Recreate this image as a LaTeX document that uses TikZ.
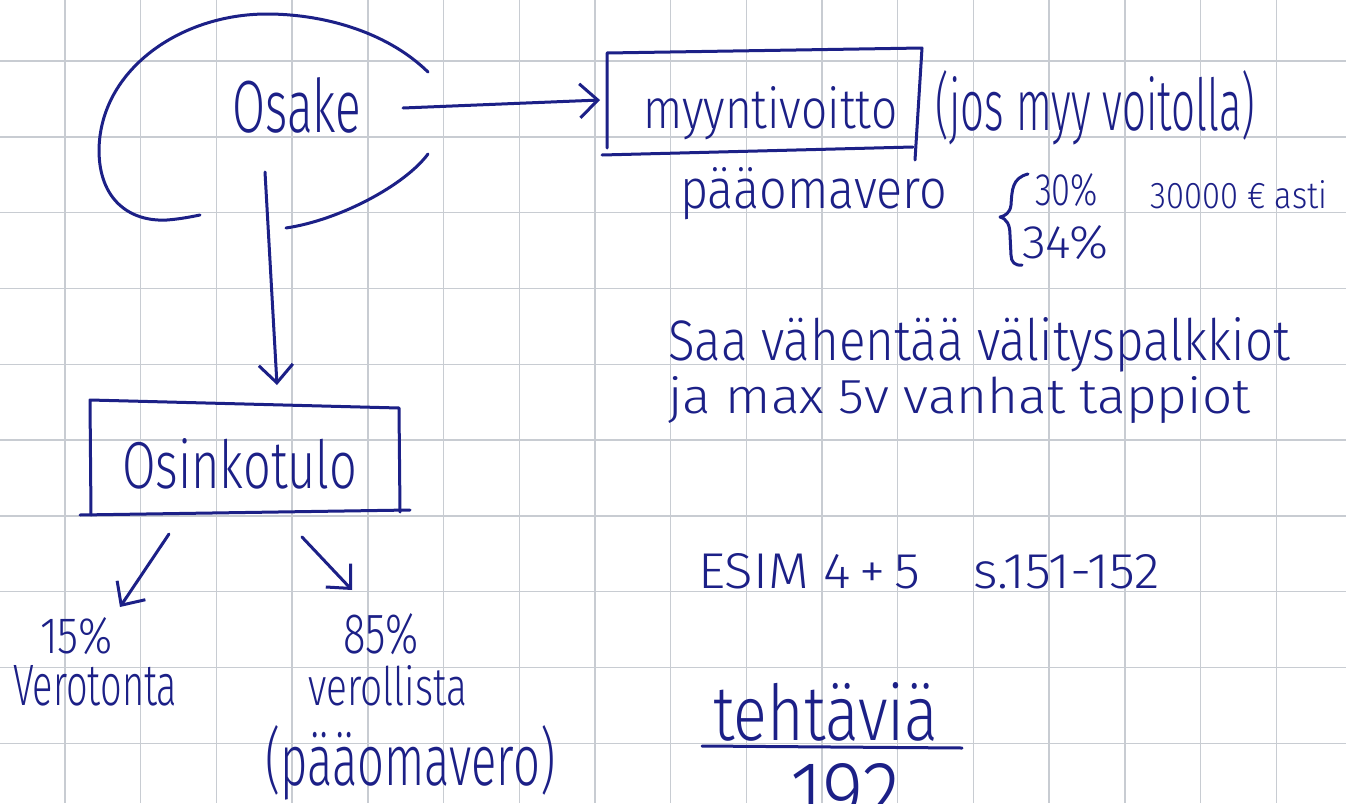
\documentclass[tikz,border=0pt]{standalone}
\usepackage{fontspec}
\usepackage{graphicx}
\usetikzlibrary{arrows.meta}
\newfontfamily\hand{Fira Sans Light}
\definecolor{ink}{RGB}{28,32,135}
\definecolor{gridc}{RGB}{200,204,210}
\newcommand\hw[3]{\resizebox{#1pt}{#2pt}{\hand #3}}
\tikzset{
  ink/.style={draw=ink, line width=3pt, line cap=round, line join=round},
  arr/.style={ink, -{Straight Barb[length=18pt,width=34pt,line width=3pt]}},
  txt/.style={anchor=base west, inner sep=0pt, text=ink},
  gridline/.style={draw=gridc, line width=1.4pt}
}
\begin{document}
\begin{tikzpicture}[x=1pt,y=-1pt]
\useasboundingbox (0,0) rectangle (1346,803);
\clip (0,0) rectangle (1346,803);
\fill[white] (0,0) rectangle (1346,803);
% grid paper
\foreach \i in {0,...,16} \draw[gridline] ({65+75.7*\i},0) -- ({65+75.7*\i},803);
\foreach \j in {0,...,9} \draw[gridline] (0,{61+75.8*\j}) -- (1346,{61+75.8*\j});

% bubble round Osake
\draw[ink] (428,72) .. controls (385,30) and (320,14) .. (267,14)
  .. controls (180,14) and (100,70) .. (99,150)
  .. controls (99,200) and (130,222) .. (167,220)
  .. controls (180,219) and (190,217) .. (200,215);
\draw[ink] (286,228) .. controls (340,220) and (405,185) .. (428,154);

% texts
\node[txt] (osake) at (232,132) {\hw{129}{55}{Osake}};
\node[txt] (myynti) at (643,128) {\hw{254}{42}{myyntivoitto}};
\node[txt] (jos) at (935,130) {\hw{320}{60}{(jos myy voitolla)}};
\node[txt] (paaoma) at (680,208) {\hw{267}{41}{pääomavero}};
\node[txt] (p30) at (1035,205) {\hw{63}{32}{30\%}};
\node[txt] (asti) at (1150,208) {\hw{177}{28}{30000 € asti}};
\node[txt] (p34) at (1022,258) {\hw{86}{33}{34\%}};
\node[txt] (saa) at (668,360) {\hw{622}{43}{Saa vähentää välityspalkkiot}};
\node[txt] (ja) at (668,413) {\hw{582}{37}{ja max 5v vanhat tappiot}};
\node[txt] (osinko) at (122,488) {\hw{235}{50}{Osinkotulo}};
\node[txt] (p15) at (40,653) {\hw{72}{36}{15\%}};
\node[txt] (verot) at (13,705) {\hw{164}{40}{Verotonta}};
\node[txt] (p85) at (343,653) {\hw{75}{40}{85\%}};
\node[txt] (veroll) at (308,705) {\hw{159}{40}{verollista}};
\node[txt] (paaoma2) at (265,785) {\hw{290}{60}{(pääomavero)}};
\node[txt] (esim) at (698,588) {\hw{462}{35}{ESIM 4\,+\,5\quad s.151-152}};
\node[txt] (tehtavia) at (713,740) {\hw{225}{58}{tehtäviä}};
\node[txt] (n192) at (790,823) {\hw{110}{60}{192}};

% boxes
\draw[ink] (607,148) -- (607,53) -- (922,48) -- (915,160);
\draw[ink] (602,155) -- (913,147);
\draw[ink] (91,515) -- (90,400) -- (399,408) -- (400,512);
\draw[ink] (80,515) -- (410,510);

% brace
\draw[ink] (1028,174) .. controls (1012,178) and (1012,190) .. (1011,205)
  .. controls (1010,213) and (1005,216) .. (1000,217)
  .. controls (1007,219) and (1010,225) .. (1010,235) -- (1011,255)
  .. controls (1011,262) and (1015,266) .. (1022,265);

% underline
\draw[ink] (702,746) -- (962,748);

% connectors
\coordinate (osakeR) at (403,108);
\coordinate (myyL) at (600,100);
\coordinate (osakeB) at (265,172);
\coordinate (osinkoT) at (277,385);
\coordinate (osinkoBL) at (169,534);
\coordinate (p15T) at (120,607);
\coordinate (osinkoBR) at (302,537);
\coordinate (p85T) at (352,590);
\draw[arr] (osakeR) -- (myyL);
\draw[arr] (osakeB) -- (osinkoT);
\draw[arr] (osinkoBL) -- (p15T);
\draw[arr] (osinkoBR) -- (p85T);
\end{tikzpicture}
\end{document}
